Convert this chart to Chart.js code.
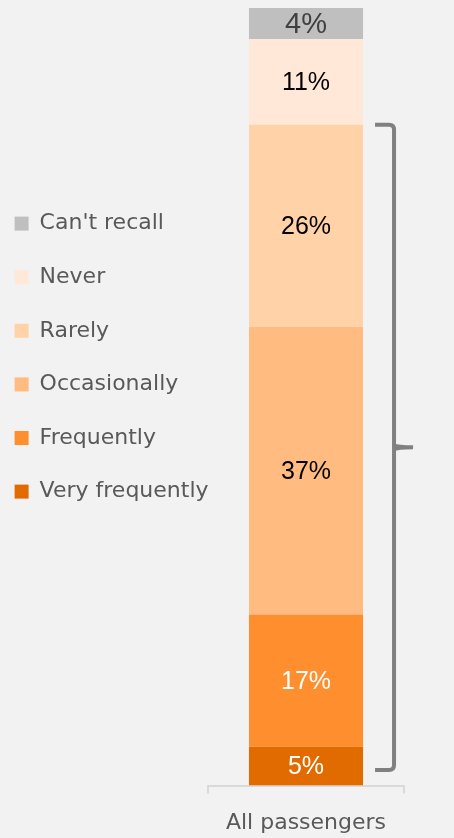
<!DOCTYPE html>
<html>
<head>
<meta charset="utf-8">
<title>How often - all passengers</title>
<script src="https://cdn.jsdelivr.net/npm/chart.js@4.4.1/dist/chart.umd.min.js"></script>
<style>
  html, body { margin: 0; padding: 0; background: #F2F2F2; }
  #wrap { position: relative; width: 454px; height: 838px; }
</style>
</head>
<body>
<div id="wrap"><canvas id="freqChart"></canvas></div>
<script>
// ---- data (stack order: bottom -> top) ----
const categories = ['All passengers'];
const seriesLabels = ['Very frequently', 'Frequently', 'Occasionally', 'Rarely', 'Never', "Can't recall"];
const seriesValues = [5, 17, 37, 26, 11, 4];

// ---- styles ----
const seriesColors = ['#E26B00', '#FF8F2E', '#FFBB80', '#FFD2A8', '#FFE8D8', '#BFBFBF'];
const valueColors = ['#FFFFFF', '#FFFFFF', '#000000', '#000000', '#000000', '#404040'];
const valueSizes = [25, 25, 25, 25, 25, 29];
const textGrey = '#595959';
const textFont = { family: '"DejaVu Sans", sans-serif', size: 22 };
const bracketSeries = ['Very frequently', 'Frequently', 'Occasionally', 'Rarely'];

// percent labels in the middle of each segment
const valueLabels = {
    id: 'valueLabels',
    afterDatasetsDraw(chart) {
        const ctx = chart.ctx;
        ctx.save();
        ctx.textAlign = 'center';
        ctx.textBaseline = 'middle';
        chart.data.datasets.forEach((ds, i) => {
            const bar = chart.getDatasetMeta(i).data[0];
            if (!bar) return;
            ctx.font = `${valueSizes[i]}px "Liberation Sans", Arial, sans-serif`;
            ctx.fillStyle = valueColors[i];
            ctx.fillText(ds.data[0] + '%', bar.x, (bar.y + bar.base) / 2 + 1);
        });
        ctx.restore();
    }
};

// right-hand curly bracket over Rarely .. Very frequently
const bracket = {
    id: 'bracket',
    afterDatasetsDraw(chart) {
        const ctx = chart.ctx;
        const topIdx = seriesLabels.indexOf(bracketSeries[bracketSeries.length - 1]);
        const topBar = chart.getDatasetMeta(topIdx).data[0];
        const x0 = topBar.x + topBar.width / 2 + 12;
        const xv = x0 + 19;
        const top = topBar.y;
        const bottom = chart.scales.y.getPixelForValue(2);
        const mid = (top + bottom) / 2;
        const r = 5;

        ctx.save();
        ctx.strokeStyle = '#808080';
        ctx.fillStyle = '#808080';
        ctx.lineWidth = 4;
        ctx.beginPath();
        ctx.moveTo(x0, top);
        ctx.lineTo(xv - r, top);
        ctx.quadraticCurveTo(xv, top, xv, top + r);
        ctx.lineTo(xv, bottom - r);
        ctx.quadraticCurveTo(xv, bottom, xv - r, bottom);
        ctx.lineTo(x0, bottom);
        ctx.stroke();

        // pointed tip in the middle
        ctx.beginPath();
        ctx.moveTo(xv, mid - 4);
        ctx.quadraticCurveTo(xv + 4, mid - 2, xv + 19, mid - 2);
        ctx.lineTo(xv + 19, mid + 2);
        ctx.quadraticCurveTo(xv + 4, mid + 2, xv, mid + 4);
        ctx.closePath();
        ctx.fill();
        ctx.restore();
    }
};

const datasets = seriesLabels.map((label, i) => ({
    label: label,
    data: [seriesValues[i]],
    backgroundColor: seriesColors[i],
    borderWidth: 0,
    barPercentage: 1,
    categoryPercentage: 0.582
}));

new Chart(document.getElementById('freqChart'), {
    type: 'bar',
    data: { labels: categories, datasets: datasets },
    plugins: [valueLabels, bracket],
    options: {
        responsive: true,
        maintainAspectRatio: false,
        animation: false,
        events: [],
        layout: { padding: { left: -17, right: 50, top: 8, bottom: -14 } },
        plugins: {
            tooltip: { enabled: false },
            legend: {
                position: 'left',
                align: 'start',
                reverse: true,
                maxWidth: 225,
                title: { display: true, text: ' ', font: { size: 10 }, padding: { top: 161, bottom: 0 } },
                labels: {
                    boxWidth: 14,
                    boxHeight: 14,
                    padding: 31.6,
                    color: textGrey,
                    font: textFont
                }
            }
        },
        scales: {
            x: {
                stacked: true,
                grid: {
                    display: true,
                    drawOnChartArea: false,
                    tickLength: 8,
                    color: '#D9D9D9',
                    lineWidth: 2
                },
                border: { display: true, color: '#D9D9D9', width: 2 },
                ticks: {
                    padding: 16,
                    color: textGrey,
                    font: textFont
                }
            },
            y: {
                stacked: true,
                display: false,
                min: 0,
                max: 100
            }
        }
    }
});
</script>
</body>
</html>
